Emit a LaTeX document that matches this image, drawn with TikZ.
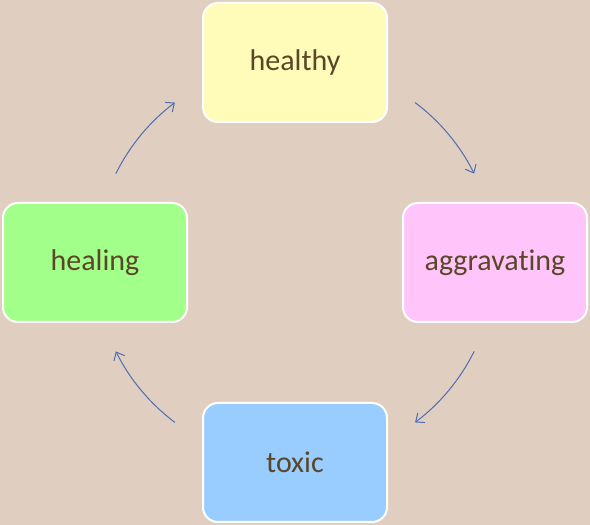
\documentclass[tikz,border=0pt]{standalone}
\usepackage{fontspec}
\setmainfont[Ligatures={NoCommon,NoContextual}]{Carlito}
\usepackage{tikz}
\usetikzlibrary{arrows.meta,positioning}
\definecolor{bgtan}{HTML}{E0CFC0}
\definecolor{txtbrown}{HTML}{5A4628}
\definecolor{arrowblue}{HTML}{4F6DB3}
\definecolor{cyellow}{HTML}{FFFBB8}
\definecolor{cpink}{HTML}{FFC5FB}
\definecolor{cblue}{HTML}{99CCFF}
\definecolor{cgreen}{HTML}{A2FF8A}

\begin{document}
\begin{tikzpicture}[x=1pt,y=1pt]
	\tikzset{stage/.style = {shape=rectangle,rounded corners=15pt,draw=white,line width=2pt,
		minimum width=184pt,minimum height=119pt,text=txtbrown,font=\fontsize{30}{36}\selectfont}}
	\tikzset{flow/.style = {draw=arrowblue,line width=1pt,-{Straight Barb[length=7pt,width=12pt]}}}

	% background
	\fill[bgtan] (0,0) rectangle (590,525);

	% stages
	\coordinate (hub) at (295,262.5);
	\node[stage,fill=cyellow] (healthy) at (295,462.5) {healthy};
	\node[stage,fill=cpink] (aggravating) at (495,262.5) {aggravating};
	\node[stage,fill=cblue] (toxic) at (295,62.5) {toxic};
	\node[stage,fill=cgreen] (healing) at (95,262.5) {healing};

	% arrows
	\foreach \s/\e in {53.1/26.4,-26.4/-53.1,-126.9/-153.6,153.6/126.9}
		\draw[flow] (hub) ++(\s:200) arc[start angle=\s,end angle=\e,radius=200pt];
\end{tikzpicture}
\end{document}
